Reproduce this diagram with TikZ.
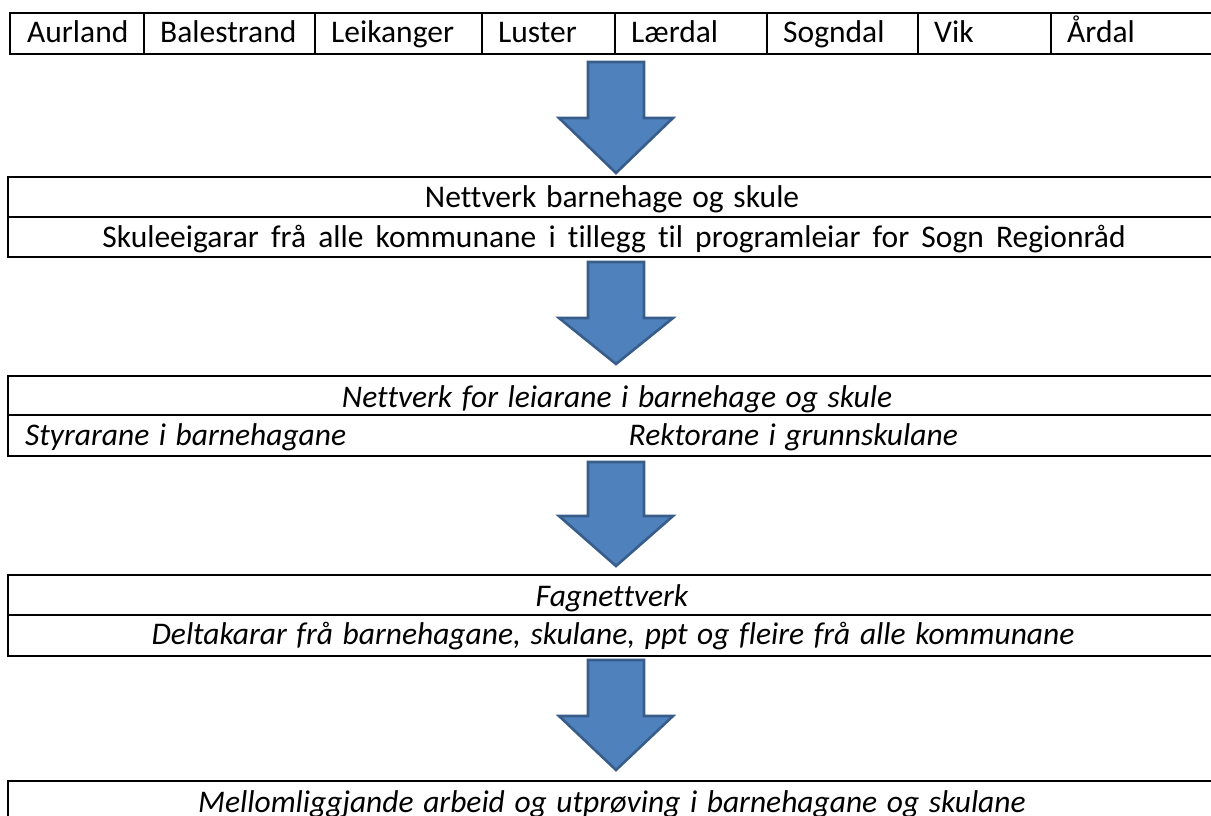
\documentclass[tikz,border=0pt]{standalone}
\usepackage{fontspec}
\setmainfont{Carlito}[Ligatures={NoCommon},WordSpace={1.35}]
\definecolor{arrowfill}{HTML}{4F81BD}
\definecolor{arrowline}{HTML}{385D8A}
\newcommand\blockarrow[4]{% xc, ytop, yhead, ytip
  \draw[barrow] (#1-28,#2) -- (#1+28,#2) -- (#1+28,#3) -- (#1+57,#3) -- (#1,#4) -- (#1-57,#3) -- (#1-28,#3) -- cycle;}
\begin{document}
\begin{tikzpicture}[x=1pt,y=-1pt,
  cell/.style={draw=black,line width=2.6pt},
  txt/.style={inner sep=0pt,font=\fontsize{31.5}{36}\selectfont},
  itxt/.style={txt,font=\fontsize{31.5}{36}\selectfont\itshape},
  barrow/.style={fill=arrowfill,draw=arrowline,line width=2.6pt,line join=miter}]
\useasboundingbox (0,0) rectangle (1211,816);
\clip (0,0) rectangle (1211,816);
% top table
\foreach \a/\b [count=\i] in {10/144,144/315,315/482,482/615,615/767,767/918,918/1051,1051/1225}
  \draw[cell] (\a,13) rectangle (\b,54);
\node[txt,anchor=base west] (c1) at (27,43) {Aurland};
\node[txt,anchor=base west] (c2) at (160,43) {Balestrand};
\node[txt,anchor=base west] (c3) at (331,43) {Leikanger};
\node[txt,anchor=base west] (c4) at (498,43) {Luster};
\node[txt,anchor=base west] (c5) at (631,43) {Lærdal};
\node[txt,anchor=base west] (c6) at (783,43) {Sogndal};
\node[txt,anchor=base west] (c7) at (934,43) {Vik};
\node[txt,anchor=base west] (c8) at (1067,43) {Årdal};
% arrows
\blockarrow{616}{62}{118}{173}
\blockarrow{616}{262}{318}{364}
\blockarrow{616}{462}{516}{566}
\blockarrow{616}{660}{716}{770}
% box 1
\draw[cell] (8,177) rectangle (1225,217);
\draw[cell] (8,217) rectangle (1225,257);
\node[txt,anchor=base] (b1a) at (612,207) {Nettverk barnehage og skule};
\node[txt,anchor=base] (b1b) at (614,247) {\spaceskip=\dimexpr\fontdimen2\font+2.6pt\relax Skuleeigarar frå alle kommunane i tillegg til programleiar for Sogn Regionråd};
% box 2
\draw[cell] (8,376) rectangle (1225,415);
\draw[cell] (8,415) rectangle (1225,456);
\node[itxt,anchor=base] (b2a) at (617,407) {Nettverk for leiarane i barnehage og skule};
\node[itxt,anchor=base west] (b2b) at (25,445) {Styrarane i barnehagane};
\node[itxt,anchor=base east] (b2c) at (958,445) {Rektorane i grunnskulane};
% box 3
\draw[cell] (8,575) rectangle (1225,615);
\draw[cell] (8,615) rectangle (1225,656);
\node[itxt,anchor=base] (b3a) at (612,606) {Fagnettverk};
\node[itxt,anchor=base] (b3b) at (613,644) {Deltakarar frå barnehagane, skulane, ppt og fleire frå alle kommunane};
% box 4
\draw[cell] (8,781) rectangle (1225,840);
\node[itxt,anchor=base] (b4a) at (612,812) {Mellomliggjande arbeid og utprøving i barnehagane og skulane};
\end{tikzpicture}
\end{document}
